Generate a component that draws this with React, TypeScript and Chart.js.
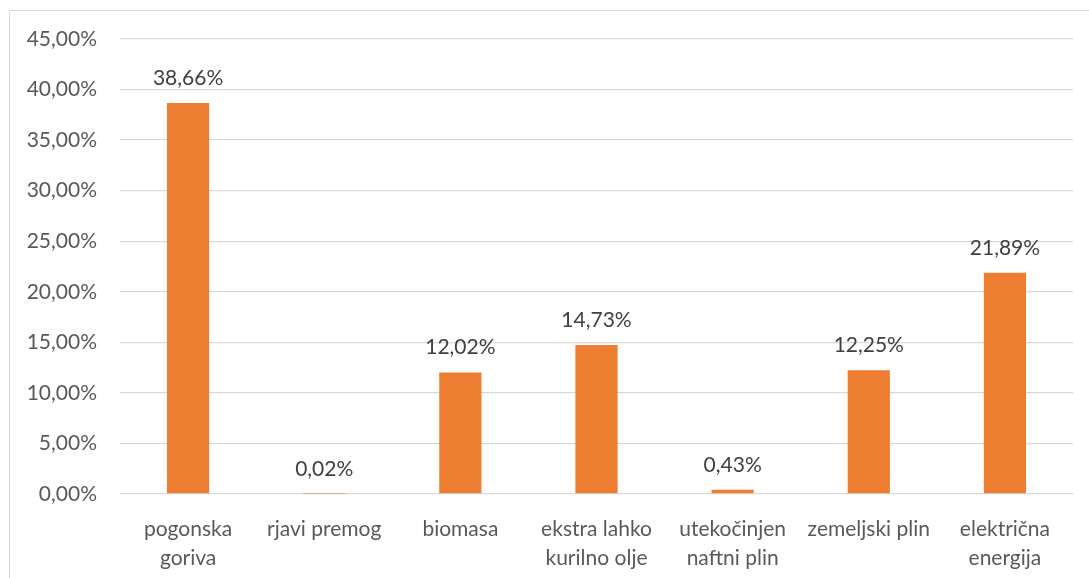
import React, { useEffect, useRef } from "react";
import { Chart, registerables } from "chart.js";

Chart.register(...registerables);

const categories: (string | string[])[] = [
  ["pogonska", "goriva"],
  "rjavi premog",
  "biomasa",
  ["ekstra lahko", "kurilno olje"],
  ["utekočinjen", "naftni plin"],
  "zemeljski plin",
  ["električna", "energija"],
];
const shares = [38.66, 0.02, 12.02, 14.73, 0.43, 12.25, 21.89];
const yMax = 45;
const yStep = 5;

const FONT = "Lato, 'Open Sans', sans-serif";
const fmt = (v: number) => v.toFixed(2).replace(".", ",") + "%";

const labelPlugin = {
  id: "barValueLabels",
  afterDatasetsDraw(chart: any) {
    const ctx = chart.ctx;
    const meta = chart.getDatasetMeta(0);
    ctx.save();
    ctx.font = `21px ${FONT}`;
    ctx.fillStyle = "#404040";
    ctx.textAlign = "center";
    ctx.textBaseline = "alphabetic";
    meta.data.forEach((bar: any, i: number) => {
      ctx.fillText(fmt(shares[i]), bar.x, bar.y - 18);
    });
    ctx.restore();
  },
};

export default function App() {
  const ref = useRef<HTMLCanvasElement | null>(null);
  useEffect(() => {
    if (!ref.current) return;
    const chart = new Chart(ref.current, {
      type: "bar",
      data: {
        labels: categories,
        datasets: [
          {
            data: shares,
            backgroundColor: "#ED7D31",
            categoryPercentage: 1,
            barPercentage: 0.31,
          },
        ],
      },
      plugins: [labelPlugin],
      options: {
        animation: false,
        responsive: true,
        maintainAspectRatio: false,
        layout: { padding: { top: 39, right: 16, left: 0, bottom: 0 } },
        plugins: { legend: { display: false }, tooltip: { enabled: false } },
        scales: {
          x: {
            grid: { display: false, drawTicks: false },
            border: { display: false },
            ticks: {
              color: "#595959",
              font: { family: FONT, size: 21, lineHeight: 1.42 },
              padding: 20,
              maxRotation: 0,
              autoSkip: false,
            },
            afterFit(axis: any) {
              axis.height = 84;
            },
          },
          y: {
            min: 0,
            max: yMax,
            grid: { color: "#d9d9d9", lineWidth: 1.3, drawTicks: false },
            border: { display: false },
            ticks: {
              stepSize: yStep,
              color: "#595959",
              font: { family: FONT, size: 21 },
              padding: 23,
              callback: (v: any) => fmt(Number(v)),
            },
            afterFit(axis: any) {
              axis.width = 120;
            },
          },
        },
      },
    });
    return () => chart.destroy();
  }, []);
  return (
    <div style={{ position: "absolute", left: 0, top: 0, width: 1089, height: 578, background: "#fff", overflow: "hidden" }}>
      <div
        style={{
          position: "absolute",
          left: 9,
          top: 10,
          width: 1100,
          height: 600,
          border: "1px solid #d9d9d9",
          boxSizing: "border-box",
        }}
      />
      <canvas ref={ref} style={{ position: "absolute", left: 0, top: 0 }} />
      <div style={{ position: "absolute", left: 0, top: 0, width: 1089, height: 578 }} />
    </div>
  );
}
